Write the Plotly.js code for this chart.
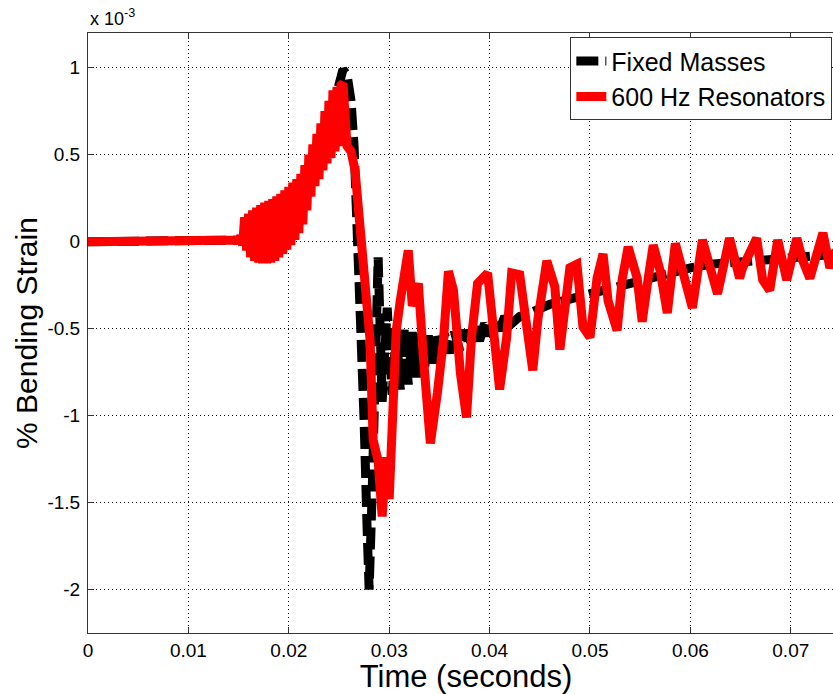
<!DOCTYPE html>
<html><head><meta charset="utf-8">
<script src="https://cdn.plot.ly/plotly-3.0.1.min.js"></script>
<style>html,body{margin:0;padding:0;overflow:hidden;background:#fff}#chart{width:860px;height:694px}</style>
</head><body><div id="chart"></div><script>
// Values of strain are in units of 1e-3 (axis multiplier shown as "x 10^-3")
const fixedTime = [0, 0.005, 0.010, 0.015, 0.016, 0.017, 0.018, 0.019, 0.020, 0.021, 0.022, 0.023, 0.024, 0.0248, 0.0254,
  0.0258, 0.0262, 0.0265, 0.0268, 0.0272, 0.0275, 0.0278, 0.0280, 0.0283, 0.0286, 0.0288, 0.0289,
  0.0293, 0.0298, 0.0303, 0.0307, 0.0311, 0.0315, 0.0319, 0.0323, 0.0327, 0.0331, 0.0335, 0.0339, 0.0343, 0.0347,
  0.0351, 0.0355, 0.0360, 0.0365, 0.0370, 0.0375, 0.0380, 0.0385, 0.0390, 0.0395, 0.0400, 0.0405, 0.0410, 0.0415,
  0.0420, 0.0430, 0.0440, 0.0460, 0.0480, 0.0500, 0.0520, 0.0540, 0.0560, 0.0580, 0.0600, 0.0620, 0.0640, 0.0660,
  0.0680, 0.0700, 0.0720, 0.0750];
const fixedStrain = [0, 0, 0, 0, 0.01, 0.03, 0.06, 0.10, 0.15, 0.22, 0.31, 0.45, 0.65, 0.86, 0.99,
  0.96, 0.81, 0.55, 0.12, -0.45, -1.03, -1.65, -2.0, -1.45, -0.85, -0.35, -0.09,
  -0.92, -0.38, -0.88, -0.50, -0.85, -0.50, -0.82, -0.52, -0.78, -0.53, -0.74, -0.54, -0.70, -0.54,
  -0.67, -0.53, -0.64, -0.52, -0.62, -0.51, -0.60, -0.49, -0.57, -0.47, -0.54, -0.45, -0.51, -0.43,
  -0.48, -0.43, -0.41, -0.36, -0.33, -0.30, -0.26, -0.23, -0.20, -0.17, -0.15, -0.13, -0.12, -0.11,
  -0.10, -0.09, -0.08, -0.07];

const resTime = [0, 0.005, 0.010, 0.0150,
  0.0152, 0.0154, 0.0156, 0.0158, 0.0160, 0.0162, 0.0164, 0.0166, 0.0168, 0.0170, 0.0172, 0.0174, 0.0176, 0.0178,
  0.0180, 0.0182, 0.0184, 0.0186, 0.0188, 0.0190, 0.0192, 0.0194, 0.0196, 0.0198, 0.0200, 0.0202, 0.0204, 0.0206,
  0.0208, 0.0210, 0.0212, 0.0214, 0.0216, 0.0218, 0.0220, 0.0222, 0.0224, 0.0226, 0.0228, 0.0230, 0.0232, 0.0234,
  0.0236, 0.0238, 0.0240, 0.0242, 0.0244, 0.0246, 0.0248, 0.0250, 0.0252, 0.0254,
  0.0258, 0.0262, 0.0266, 0.0269, 0.0273, 0.0277, 0.0281, 0.0284, 0.0289, 0.0293, 0.0297, 0.0300, 0.0303, 0.0307,
  0.0311, 0.0316, 0.0319, 0.0323, 0.0329, 0.0334, 0.0341, 0.0348, 0.0354, 0.0359, 0.0364, 0.0371, 0.0377, 0.0382,
  0.0388, 0.0398, 0.0403, 0.0410, 0.0417, 0.0422, 0.0430, 0.0437, 0.0443, 0.0448, 0.0457, 0.0465, 0.0470, 0.0480,
  0.0487, 0.0493, 0.0500, 0.0507, 0.0513, 0.0518, 0.0527, 0.0532, 0.0538, 0.0547, 0.0552, 0.0558, 0.0563, 0.0570,
  0.0577, 0.0585, 0.0593, 0.0602, 0.0612, 0.0620, 0.0627, 0.0639, 0.0649, 0.0652, 0.0666, 0.0672, 0.0679, 0.0687,
  0.0696, 0.0706, 0.0712, 0.0719, 0.0732, 0.0739, 0.0745, 0.0752];
const resStrain = [0, 0, 0.005, 0.01,
  0.03, -0.02, 0.14, -0.05, 0.16, -0.09, 0.18, -0.11, 0.195, -0.12, 0.21, -0.125, 0.225, -0.125,
  0.235, -0.12, 0.245, -0.11, 0.26, -0.09, 0.275, -0.07, 0.295, -0.045, 0.315, -0.02, 0.34, 0.01,
  0.36, 0.05, 0.39, 0.10, 0.44, 0.18, 0.50, 0.26, 0.56, 0.32, 0.62, 0.36, 0.68, 0.41,
  0.75, 0.45, 0.81, 0.48, 0.87, 0.52, 0.89, 0.55, 0.90, 0.91,
  0.55, 0.52, 0.41, 0.18, -0.05, -0.28, -0.57, -1.14, -1.26, -1.58, -1.24, -1.48, -0.91, -0.51,
  -0.34, -0.11, -0.05, -0.37, -0.24, -0.66, -1.16, -0.87, -0.57, -0.17, -0.28, -0.76, -1.01, -0.55,
  -0.24, -0.18, -0.45, -0.85, -0.55, -0.18, -0.19, -0.53, -0.74, -0.45, -0.11, -0.26, -0.62, -0.15,
  -0.13, -0.49, -0.55, -0.21, -0.07, -0.34, -0.51, -0.22, -0.03, -0.21, -0.46, -0.21, -0.02, -0.17,
  -0.41, -0.01, -0.18, -0.38, 0.01, -0.18, -0.30, 0.02, -0.21, -0.15, 0.02, -0.22, -0.28, 0.01,
  -0.22, 0.02, -0.11, -0.21, 0.05, -0.15, -0.05, -0.12];

const xTickVals = [0, 0.01, 0.02, 0.03, 0.04, 0.05, 0.06, 0.07];
const xTickText = ['0', '0.01', '0.02', '0.03', '0.04', '0.05', '0.06', '0.07'];
const yTickVals = [-2, -1.5, -1, -0.5, 0, 0.5, 1];
const yTickText = ['-2', '-1.5', '-1', '-0.5', '0', '0.5', '1'];

const FONT = 'Liberation Sans, Arial, Helvetica, sans-serif';

const traces = [
  {x: fixedTime, y: fixedStrain, type: 'scatter', mode: 'lines', name: 'Fixed Masses',
   line: {color: '#000000', width: 9, dash: '22px,7px'}},
  {x: resTime, y: resStrain, type: 'scatter', mode: 'lines', name: '600 Hz Resonators',
   line: {color: '#ff0000', width: 9}}
];

const axisCommon = {
  showline: true, linecolor: '#333', linewidth: 1, mirror: 'ticks',
  ticks: 'inside', ticklen: 6, tickcolor: '#333', tickwidth: 1,
  showgrid: true, gridcolor: '#111', gridwidth: 1, griddash: '1px,3px',
  zeroline: false, tickfont: {family: FONT, size: 19, color: '#000'}
};

const layout = {
  width: 860, height: 694,
  margin: {l: 88, r: 16, t: 33, b: 61},
  paper_bgcolor: '#fff', plot_bgcolor: '#fff',
  font: {family: FONT, color: '#000'},
  showlegend: true,
  legend: {x: 0.638, y: 0.993, xanchor: 'left', yanchor: 'top', bgcolor: '#fff',
    bordercolor: '#333', borderwidth: 1, font: {family: FONT, size: 25, color: '#000'},
    itemwidth: 30, tracegroupgap: 0},
  xaxis: Object.assign({}, axisCommon, {
    range: [0, 0.0753], tickvals: xTickVals, ticktext: xTickText, ticklabelstandoff: 0,
    title: {text: 'Time (seconds)', font: {family: FONT, size: 31, color: '#000'}, standoff: 1}
  }),
  yaxis: Object.assign({}, axisCommon, {
    range: [-2.25, 1.2], tickvals: yTickVals, ticktext: yTickText, ticklabelstandoff: 3,
    title: {text: '% Bending Strain', font: {family: FONT, size: 30, color: '#000'}, standoff: 0}
  }),
  annotations: [{
    xref: 'paper', yref: 'paper', x: 0, y: 1, xanchor: 'left', yanchor: 'bottom', yshift: 2,
    text: 'x 10<sup>-3</sup>', showarrow: false, font: {family: FONT, size: 18, color: '#000'}
  }]
};

Plotly.newPlot('chart', traces, layout, {displayModeBar: false, staticPlot: true});
</script></body></html>
